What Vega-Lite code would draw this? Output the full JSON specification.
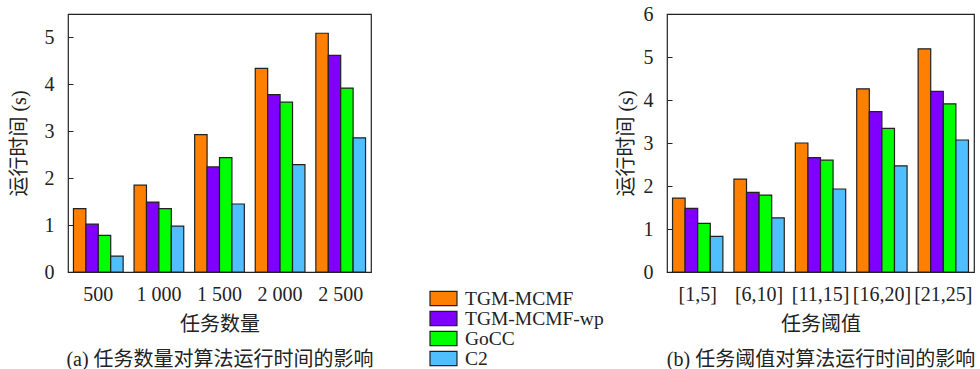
{
  "$schema": "https://vega.github.io/schema/vega-lite/v6.json",
  "bounds": "flush",
  "spacing": 296,
  "padding": {"left": 8, "top": 3, "right": 0, "bottom": 0},
  "background": "white",
  "config": {
    "font": "Liberation Serif, Noto Sans CJK SC",
    "view": {"stroke": "#222", "strokeWidth": 1.2},
    "axis": {
      "grid": false,
      "domain": false,
      "labelFont": "Liberation Serif",
      "labelFontSize": 20,
      "labelColor": "#222",
      "titleFont": "Liberation Serif, Noto Sans CJK SC",
      "titleFontSize": 20,
      "titleFontWeight": "normal",
      "titleColor": "#222"
    }
  },
  "datasets": {
    "a": [
      {"group": "500", "series": "TGM-MCMF", "value": 1.35},
      {"group": "500", "series": "TGM-MCMF-wp", "value": 1.02},
      {"group": "500", "series": "GoCC", "value": 0.78},
      {"group": "500", "series": "C2", "value": 0.34},
      {"group": "1 000", "series": "TGM-MCMF", "value": 1.85},
      {"group": "1 000", "series": "TGM-MCMF-wp", "value": 1.49},
      {"group": "1 000", "series": "GoCC", "value": 1.35},
      {"group": "1 000", "series": "C2", "value": 0.98},
      {"group": "1 500", "series": "TGM-MCMF", "value": 2.93},
      {"group": "1 500", "series": "TGM-MCMF-wp", "value": 2.24},
      {"group": "1 500", "series": "GoCC", "value": 2.44},
      {"group": "1 500", "series": "C2", "value": 1.45},
      {"group": "2 000", "series": "TGM-MCMF", "value": 4.34},
      {"group": "2 000", "series": "TGM-MCMF-wp", "value": 3.78},
      {"group": "2 000", "series": "GoCC", "value": 3.62},
      {"group": "2 000", "series": "C2", "value": 2.29},
      {"group": "2 500", "series": "TGM-MCMF", "value": 5.09},
      {"group": "2 500", "series": "TGM-MCMF-wp", "value": 4.62},
      {"group": "2 500", "series": "GoCC", "value": 3.92},
      {"group": "2 500", "series": "C2", "value": 2.86}
    ],
    "b": [
      {"group": "[1,5]", "series": "TGM-MCMF", "value": 1.72},
      {"group": "[1,5]", "series": "TGM-MCMF-wp", "value": 1.48},
      {"group": "[1,5]", "series": "GoCC", "value": 1.13},
      {"group": "[1,5]", "series": "C2", "value": 0.83},
      {"group": "[6,10]", "series": "TGM-MCMF", "value": 2.16},
      {"group": "[6,10]", "series": "TGM-MCMF-wp", "value": 1.85},
      {"group": "[6,10]", "series": "GoCC", "value": 1.79},
      {"group": "[6,10]", "series": "C2", "value": 1.26},
      {"group": "[11,15]", "series": "TGM-MCMF", "value": 3.0},
      {"group": "[11,15]", "series": "TGM-MCMF-wp", "value": 2.66},
      {"group": "[11,15]", "series": "GoCC", "value": 2.6},
      {"group": "[11,15]", "series": "C2", "value": 1.93},
      {"group": "[16,20]", "series": "TGM-MCMF", "value": 4.26},
      {"group": "[16,20]", "series": "TGM-MCMF-wp", "value": 3.73},
      {"group": "[16,20]", "series": "GoCC", "value": 3.34},
      {"group": "[16,20]", "series": "C2", "value": 2.47},
      {"group": "[21,25]", "series": "TGM-MCMF", "value": 5.19},
      {"group": "[21,25]", "series": "TGM-MCMF-wp", "value": 4.2},
      {"group": "[21,25]", "series": "GoCC", "value": 3.91},
      {"group": "[21,25]", "series": "C2", "value": 3.07}
    ]
  },
  "hconcat": [
    {
      "width": 303,
      "height": 258,
      "data": {"name": "a"},
      "mark": {"type": "bar", "stroke": "#222", "strokeWidth": 1.2},
      "encoding": {
        "x": {
          "field": "group", "type": "nominal",
          "sort": ["500", "1 000", "1 500", "2 000", "2 500"],
          "scale": {"paddingInner": 0.18, "paddingOuter": 0.09},
          "axis": {"title": ["任务数量", "(a) 任务数量对算法运行时间的影响"], "titleLineHeight": 35, "labelAngle": 0, "ticks": false, "labelPadding": 12, "titlePadding": 10}
        },
        "xOffset": {
          "field": "series", "type": "nominal",
          "sort": ["TGM-MCMF", "TGM-MCMF-wp", "GoCC", "C2"],
          "scale": {"paddingInner": 0, "paddingOuter": 0}
        },
        "y": {
          "field": "value", "type": "quantitative",
          "scale": {"domain": [0, 5.5], "nice": false},
          "axis": {"title": "运行时间 (s)", "values": [0, 1, 2, 3, 4, 5], "tickSize": -5, "tickColor": "#222", "labelPadding": 19, "titlePadding": 15}
        },
        "color": {
          "field": "series", "type": "nominal",
          "sort": ["TGM-MCMF", "TGM-MCMF-wp", "GoCC", "C2"],
          "scale": {"domain": ["TGM-MCMF", "TGM-MCMF-wp", "GoCC", "C2"], "range": ["#FF8000", "#8000FF", "#00FF00", "#50BFFF"]},
          "legend": {
            "orient": "none", "legendX": 365, "legendY": 274, "title": null,
            "symbolType": "M-1.42,-0.74H1.42V0.74H-1.42Z", "symbolSize": 361,
            "symbolStrokeColor": "#222", "symbolStrokeWidth": 1.2, "symbolOpacity": 1,
            "labelFont": "Liberation Serif", "labelFontSize": 19.5, "labelColor": "#222",
            "labelOffset": 11, "rowPadding": 0
          }
        }
      }
    },
    {
      "width": 307,
      "height": 258,
      "data": {"name": "b"},
      "mark": {"type": "bar", "stroke": "#222", "strokeWidth": 1.2},
      "encoding": {
        "x": {
          "field": "group", "type": "nominal",
          "sort": ["[1,5]", "[6,10]", "[11,15]", "[16,20]", "[21,25]"],
          "scale": {"paddingInner": 0.18, "paddingOuter": 0.09},
          "axis": {"title": ["任务阈值", "(b) 任务阈值对算法运行时间的影响"], "titleLineHeight": 35, "labelAngle": 0, "ticks": false, "labelPadding": 12, "titlePadding": 10}
        },
        "xOffset": {
          "field": "series", "type": "nominal",
          "sort": ["TGM-MCMF", "TGM-MCMF-wp", "GoCC", "C2"],
          "scale": {"paddingInner": 0, "paddingOuter": 0}
        },
        "y": {
          "field": "value", "type": "quantitative",
          "scale": {"domain": [0, 6], "nice": false},
          "axis": {"title": "运行时间 (s)", "values": [0, 1, 2, 3, 4, 5, 6], "tickSize": -5, "tickColor": "#222", "labelPadding": 19, "titlePadding": 7}
        },
        "color": {
          "field": "series", "type": "nominal",
          "sort": ["TGM-MCMF", "TGM-MCMF-wp", "GoCC", "C2"],
          "scale": {"domain": ["TGM-MCMF", "TGM-MCMF-wp", "GoCC", "C2"], "range": ["#FF8000", "#8000FF", "#00FF00", "#50BFFF"]},
          "legend": null
        }
      }
    }
  ],
  "resolve": {"scale": {"color": "independent", "y": "independent", "x": "independent", "xOffset": "independent"}, "legend": {"color": "independent"}}
}
